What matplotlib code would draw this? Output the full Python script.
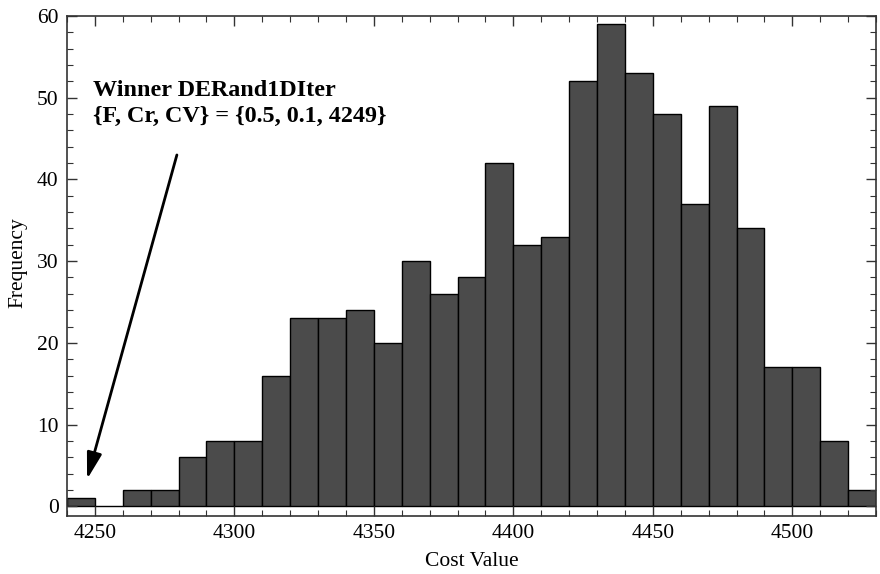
import numpy as np
import matplotlib
matplotlib.use("Agg")
import matplotlib.pyplot as plt
from matplotlib.ticker import MultipleLocator

# histogram of cost values, bins of width 10 starting at 4240
bin_width = 10
bin_start = 4240
counts = [1, 0, 2, 2, 6, 8, 8, 16, 23, 23, 24, 20, 30, 26, 28, 42,
          32, 33, 52, 59, 53, 48, 37, 49, 34, 17, 17, 8, 2]
bin_left = bin_start + bin_width * np.arange(len(counts))

winner_text = "Winner DERand1DIter\n{F, Cr, CV} = {0.5, 0.1, 4249}"

plt.rcParams['font.family'] = ['Liberation Serif', 'DejaVu Serif']

fig = plt.figure(figsize=(8.8, 5.74), dpi=100)
ax = fig.add_axes([0.0761, 0.101, 0.9194, 0.871])

ax.bar(bin_left, counts, width=bin_width, align='edge',
       color='#4b4b4b', edgecolor='black', linewidth=1.0)

ax.set_xlim(4240, 4530)
ax.set_ylim(-1.2, 60)

ax.xaxis.set_major_locator(MultipleLocator(50))
ax.xaxis.set_minor_locator(MultipleLocator(10))
ax.yaxis.set_major_locator(MultipleLocator(10))
ax.yaxis.set_minor_locator(MultipleLocator(2))
ax.tick_params(which='both', direction='in', top=True, right=True,
               labelsize=15.5, color='#333333', pad=6)
ax.tick_params(which='major', length=7, width=1)
ax.tick_params(which='minor', length=4, width=0.8)
for sp in ax.spines.values():
    sp.set_color('#333333')
    sp.set_linewidth(1.2)

ax.set_xlabel('Cost Value', fontsize=15.5, labelpad=6)
ax.set_ylabel('Frequency', fontsize=15.5)
ax.yaxis.set_label_coords(-0.049, 0.506)

ax.text(4249.3, 52.2, winner_text, fontsize=17.4, fontweight='bold',
        va='top', ha='left', linespacing=1.3)
ax.annotate('', xy=(4247.2, 3.3), xytext=(4279.4, 43.0),
            arrowprops=dict(arrowstyle='-|>,head_length=1.6,head_width=0.45',
                            color='black', lw=2, shrinkA=0, shrinkB=0))

fig.savefig('out.png', dpi=100)
